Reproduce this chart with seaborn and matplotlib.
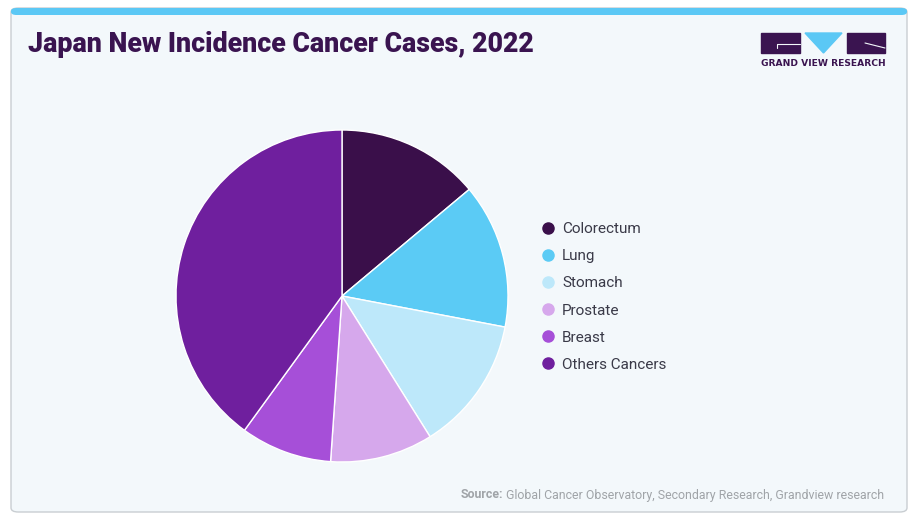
import matplotlib
matplotlib.use("Agg")
import matplotlib.pyplot as plt
import seaborn as sns
from matplotlib.patches import FancyBboxPatch, Rectangle, Polygon
from matplotlib.lines import Line2D

# data (share of new cases, %)
cancers = ["Colorectum", "Lung", "Stomach", "Prostate", "Breast", "Others Cancers"]
shares = [13.9, 14.1, 13.1, 10.0, 8.9, 40.0]
colors = ["#3A0F4A", "#5BCBF5", "#BDE8FA", "#D6A8EC", "#A64FD8", "#6F1F9E"]

sns.set_theme(style="white")
plt.rcParams["font.family"] = ["Roboto", "DejaVu Sans"]

W, H = 920, 520
fig = plt.figure(figsize=(W / 100, H / 100), dpi=100)
fig.patch.set_facecolor("white")


def fx(px):
    return px / W


def fy(py):
    return 1 - py / H


# card background
card = FancyBboxPatch((fx(11), fy(512)), fx(896), (504) / H,
                      boxstyle="round,pad=0,rounding_size=0.008",
                      transform=fig.transFigure, facecolor="#F3F8FB",
                      edgecolor="#C9CED2", linewidth=1.0, zorder=-2)
fig.patches.append(card)
strip = FancyBboxPatch((fx(11), fy(15)), fx(896), 7 / H,
                       boxstyle="round,pad=0,rounding_size=0.006",
                       transform=fig.transFigure, facecolor="#5BC8F5",
                       edgecolor="none", zorder=-1)
fig.patches.append(strip)

# title
fig.text(fx(28), fy(44), "Japan New Incidence Cancer Cases, 2022",
         fontsize=19.3, fontweight="heavy", color="#3A1450",
         ha="left", va="center")

# logo
dark = "#3A1450"
fig.patches.append(Rectangle((fx(761), fy(53)), fx(39), 20 / H,
                             transform=fig.transFigure, color=dark))
fig.patches.append(Polygon([(fx(805), fy(33)), (fx(842), fy(33)), (fx(823.5), fy(53))],
                           closed=True, transform=fig.transFigure, color="#5BC8F5"))
fig.patches.append(Rectangle((fx(847), fy(53)), fx(38), 20 / H,
                             transform=fig.transFigure, color=dark))
fig.add_artist(Line2D([fx(777), fx(777), fx(800)], [fy(48), fy(44), fy(44)],
                      transform=fig.transFigure, color="#F3F8FB", lw=0.8))
fig.add_artist(Line2D([fx(865), fx(885)], [fy(43), fy(48)],
                      transform=fig.transFigure, color="#F3F8FB", lw=0.8))
fig.text(fx(823), fy(63), "GRAND VIEW RESEARCH", fontsize=6.6,
         fontweight="bold", color=dark, ha="center", va="center",
         family=["DejaVu Sans"])

# pie
ax = fig.add_axes([fx(176), fy(462), fx(332), 332 / H])
ax.pie(shares, colors=colors, startangle=90, counterclock=False,
       wedgeprops=dict(edgecolor="white", linewidth=1))
ax.set_aspect("equal")
ax.set_xlim(-1, 1)
ax.set_ylim(-1, 1)
ax.axis("off")

# legend
handles = [Line2D([], [], marker="o", linestyle="none", markersize=8,
                  markerfacecolor=c, markeredgecolor=c) for c in colors]
leg = fig.legend(handles, cancers, loc="upper left",
                 bbox_to_anchor=(fx(533), fy(216)), frameon=False,
                 fontsize=11, labelspacing=0.86, handletextpad=0.3,
                 handlelength=1.2, borderaxespad=0)
for t in leg.get_texts():
    t.set_color("#3A3A48")

# source
src_body = fig.text(fx(884), fy(495),
                    "Global Cancer Observatory, Secondary Research, Grandview research",
                    fontsize=8.9, color="#A0A4A8", ha="right", va="center")
fig.canvas.draw()
bb = src_body.get_window_extent()
fig.text(bb.x0 / W - fx(3), fy(495), "Source:", fontsize=8.9, fontweight="bold",
         color="#A0A4A8", ha="right", va="center")

fig.savefig("out.png", dpi=100, facecolor="white")
